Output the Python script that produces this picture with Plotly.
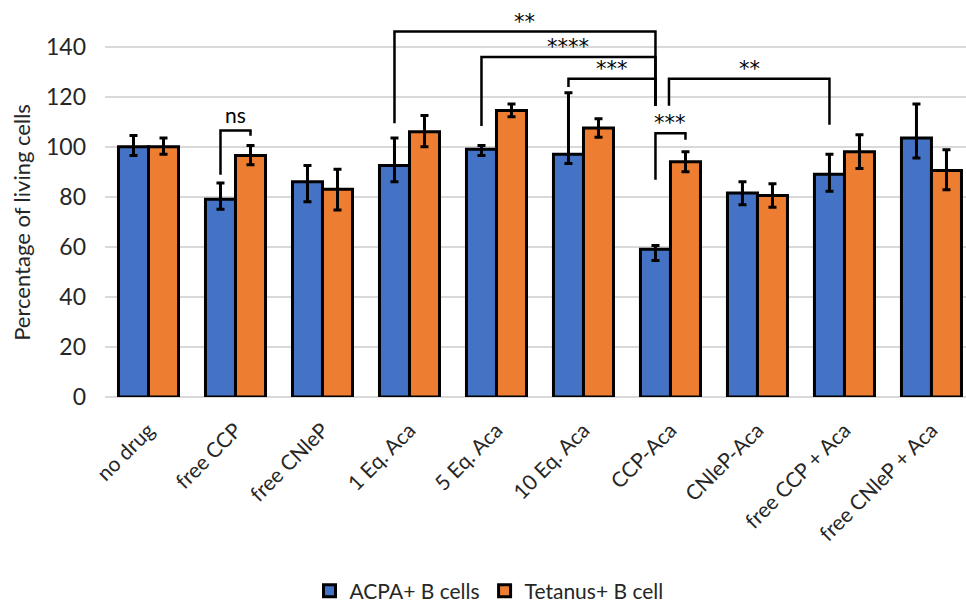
import plotly.graph_objects as go

# Treatment groups and measured viability (% of untreated control)
categories = ["no drug", "free CCP", "free CNleP", "1 Eq. Aca", "5 Eq. Aca",
              "10 Eq. Aca", "CCP-Aca", "CNleP-Aca", "free CCP + Aca", "free CNleP + Aca"]

acpa_mean = [100, 79, 86, 92.5, 99, 97, 59, 81.5, 89, 103.5]
acpa_err_up = [4.5, 6.5, 6.5, 11, 1.5, 24.5, 1.5, 4.5, 8, 13.5]
acpa_err_down = [3.5, 4, 8, 6.5, 2.5, 3.7, 4.5, 4.7, 6.8, 8]

tetanus_mean = [100, 96.5, 83, 106, 114.5, 107.5, 94, 80.5, 98, 90.5]
tetanus_err_up = [3.5, 4, 8, 6.5, 2.5, 3.7, 4, 4.7, 6.8, 8.3]
tetanus_err_down = [3, 3.7, 8.3, 6, 2.5, 3.7, 4, 4.7, 6.7, 7.7]

y_ticks = [0, 20, 40, 60, 80, 100, 120, 140]

# Significance brackets: (left group, left series, right group, right series,
# left leg bottom, bracket height, right leg bottom, label)
# series 0 = ACPA+, 1 = Tetanus+
brackets = [
    (1, 0, 1, 1, 88.8, 106.5, 104.4, "ns"),
    (3, 0, 6, 0, 109.4, 146.0, 116.3, "**"),
    (4, 0, 6, 0, 108.3, 135.8, 116.3, "****"),
    (5, 0, 6, 0, 123.8, 127.1, 116.3, "***"),
    (6, 0.45, 8, 0, 116.3, 127.1, 108.8, "**"),
    (6, 0, 6, 1, 86.8, 105.4, 102.8, "***"),
]

BLUE = "#4472C4"
ORANGE = "#ED7D31"
FONT = "Lato, 'Open Sans', sans-serif"
STAR_FONT = "'DejaVu Sans', sans-serif"
BARGAP = 0.31
HALF = (1 - BARGAP) / 4  # offset of each bar centre from group centre

x_idx = list(range(len(categories)))

fig = go.Figure()
fig.add_trace(go.Bar(
    x=x_idx, y=acpa_mean, name="ACPA+ B cells",
    marker=dict(color=BLUE, line=dict(color="black", width=3)),
    error_y=dict(type="data", symmetric=False, array=acpa_err_up,
                 arrayminus=acpa_err_down, color="black", thickness=3, width=4),
))
fig.add_trace(go.Bar(
    x=x_idx, y=tetanus_mean, name="Tetanus+ B cell",
    marker=dict(color=ORANGE, line=dict(color="black", width=3)),
    error_y=dict(type="data", symmetric=False, array=tetanus_err_up,
                 arrayminus=tetanus_err_down, color="black", thickness=3, width=4),
))


def bar_x(group, series):
    # series may be fractional to shift a leg between the two bars
    return group - HALF + 2 * HALF * series


for g1, s1, g2, s2, yl, yt, yr, label in brackets:
    x1, x2 = bar_x(g1, s1), bar_x(g2, s2)
    fig.add_shape(type="path",
                  path=f"M {x1},{yl} L {x1},{yt} L {x2},{yt} L {x2},{yr}",
                  xref="x", yref="y", line=dict(color="black", width=2.5))
    is_star = "*" in label
    fig.add_annotation(
        x=(x1 + x2) / 2, y=yt, text=label, showarrow=False,
        yanchor="bottom", yshift=-4 if is_star else 1,
        font=dict(family=STAR_FONT if is_star else FONT, size=21, color="black"),
    )

# Axis title, centred on the 0-140 tick span
fig.add_annotation(
    text="Percentage of living cells", textangle=-90, showarrow=False,
    xref="paper", yref="y", x=-0.0964, y=70, xanchor="center", yanchor="middle",
    font=dict(family=FONT, size=22, color="#262626"),
)

fig.update_layout(
    width=966, height=603,
    margin=dict(l=105, r=0, t=9, b=206, autoexpand=False),
    paper_bgcolor="white", plot_bgcolor="white",
    barmode="group", bargap=BARGAP, bargroupgap=0,
    font=dict(family=FONT, color="#262626"),
    showlegend=True,
    legend=dict(orientation="h", x=0.446, xanchor="center", y=-0.5,
                yanchor="middle", font=dict(size=21, color="#262626"),
                itemwidth=30, traceorder="normal"),
)
fig.update_xaxes(
    range=[-0.5, 9.397], tickvals=x_idx, ticktext=categories,
    tickangle=-45, tickfont=dict(size=21), showgrid=False,
    showline=False, zeroline=False, ticks="", ticklabelstandoff=16,
    automargin=False,
)
fig.update_yaxes(
    range=[0, 155], tickvals=y_ticks, tickfont=dict(size=23),
    showgrid=True, gridcolor="#D9D9D9", gridwidth=1.5,
    zeroline=True, zerolinecolor="#D9D9D9", zerolinewidth=1.5,
    showline=False, ticks="", ticklabelstandoff=18, automargin=False,
)

fig.write_html("out.html")
